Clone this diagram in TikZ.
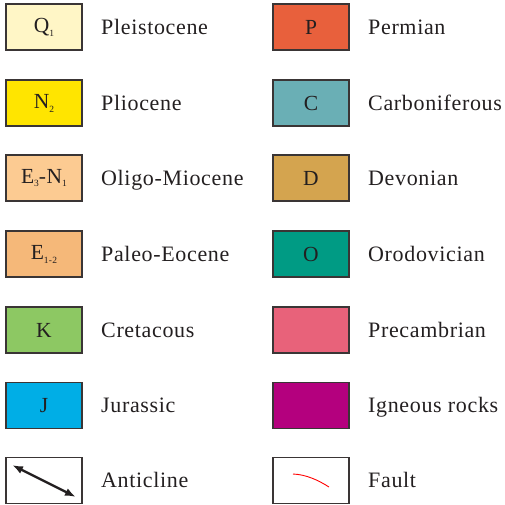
\documentclass[tikz,border=0pt]{standalone}
\usepackage{fontspec}
\setmainfont{Liberation Serif}[LetterSpace=3]
\usetikzlibrary{arrows.meta}

% Colori della legenda
\definecolor{colQ}{HTML}{FFF6C6}
\definecolor{colN}{HTML}{FFE500}
\definecolor{colEN}{HTML}{FCCB92}
\definecolor{colE}{HTML}{F5B879}
\definecolor{colK}{HTML}{8DC863}
\definecolor{colJ}{HTML}{00AEE6}
\definecolor{colP}{HTML}{E8603C}
\definecolor{colC}{HTML}{6AAFB5}
\definecolor{colD}{HTML}{D4A44F}
\definecolor{colO}{HTML}{009B84}
\definecolor{colPc}{HTML}{E8627A}
\definecolor{colIg}{HTML}{B4007E}
\definecolor{bordo}{HTML}{3A3535}
\definecolor{testo}{HTML}{231F20}

% Pedice piccolo per le sigle
\newcommand{\pedice}[1]{\raisebox{-0.4ex}{\fontsize{9.5}{9.5}\selectfont #1}}

\begin{document}
\begin{tikzpicture}[x=1pt,y=-1pt]

        % Stili globali per riquadri e nomi
        \tikzset{
            riquadro/.style={draw=bordo, line width=1.3pt, minimum width=76pt, minimum height=46pt, inner sep=0pt, text=testo, font=\fontsize{21.5}{23}\selectfont},
            nome/.style={anchor=base west, inner sep=0pt, text=testo, font=\fontsize{22}{25}\selectfont}
        }

        % Area totale
        \useasboundingbox (0,0) rectangle (505,504);

        % Colonna sinistra: riquadri
        \node[riquadro, fill=colQ] (q1) at (44,27) {Q\pedice{1}};
        \node[riquadro, fill=colN] (n2) at (44,103) {N\pedice{2}};
        \node[riquadro, fill=colEN] (e3n1) at (44,178) {E\pedice{3}-N\pedice{1}};
        \node[riquadro, fill=colE] (e12) at (44,254) {E\pedice{1-2}};
        \node[riquadro, fill=colK] (k) at (44,330) {K};
        \node[riquadro, fill=colJ] (j) at (44,405.5) {J};
        \node[riquadro, fill=white] (anti) at (44,480.5) {};

        % Colonna sinistra: nomi
        \node[nome] (lq1) at (101,34) {Pleistocene};
        \node[nome] (ln2) at (101,110) {Pliocene};
        \node[nome] (le3n1) at (101,185) {Oligo-Miocene};
        \node[nome] (le12) at (101,261) {Paleo-Eocene};
        \node[nome] (lk) at (101,337) {Cretacous};
        \node[nome] (lj) at (101,412.5) {Jurassic};
        \node[nome] (lanti) at (101,487.5) {Anticline};

        % Colonna destra: riquadri
        \node[riquadro, fill=colP] (p) at (311,27) {P};
        \node[riquadro, fill=colC] (c) at (311,103) {C};
        \node[riquadro, fill=colD] (d) at (311,178) {D};
        \node[riquadro, fill=colO] (o) at (311,254) {O};
        \node[riquadro, fill=colPc] (pc) at (311,330) {};
        \node[riquadro, fill=colIg] (ig) at (311,405.5) {};
        \node[riquadro, fill=white] (faglia) at (311,480.5) {};

        % Colonna destra: nomi
        \node[nome] (lp) at (368,34) {Permian};
        \node[nome] (lc) at (368,110) {Carboniferous};
        \node[nome] (ld) at (368,185) {Devonian};
        \node[nome] (lo) at (368,261) {Orodovician};
        \node[nome] (lpc) at (368,337) {Precambrian};
        \node[nome] (lig) at (368,412.5) {Igneous rocks};
        \node[nome] (lfaglia) at (368,487.5) {Fault};

        % Simboli: anticlinale e faglia
        \coordinate (antiA) at (12,465);
        \coordinate (antiB) at (76,497);
        \draw[testo, line width=2.4pt, {Latex[length=11pt,width=8pt]}-{Latex[length=11pt,width=8pt]}] (antiA) -- (antiB);
        \coordinate (fagliaA) at (293,474);
        \coordinate (fagliaB) at (329,487);
        \draw[red, line width=0.9pt] (fagliaA) .. controls (306,474.5) and (318,480) .. (fagliaB);

    \end{tikzpicture}
\end{document}
